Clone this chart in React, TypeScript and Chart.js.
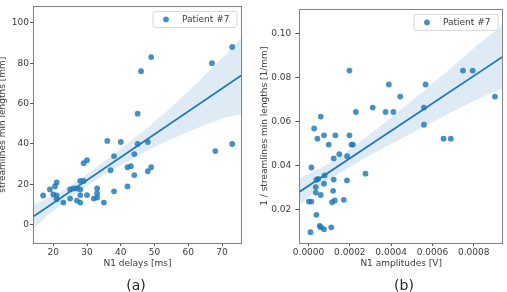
import React, { useEffect, useRef } from "react";
import { Chart, registerables } from "chart.js";

Chart.register(...registerables);

// ---------- Panel (a): N1 delays vs streamline min lengths ----------
const delaysMs = [
  17, 19, 20, 20.5, 21, 21, 21, 23, 25, 25, 26, 27, 28, 29, 27, 28, 28, 28,
  29, 30, 30, 32, 33, 33, 33, 35, 37, 38, 38, 42, 42, 43, 44, 44, 48, 49,
  36, 40, 45, 48, 45, 46, 49, 67, 73, 68, 73,
];
const minLengthsMm = [
  14.5, 17.5, 15, 19, 21, 14.5, 12.6, 11, 17.5, 13, 18, 18, 21.7, 21.7, 12, 11, 14.7, 17.5,
  30.5, 32, 14.7, 13, 18, 15.5, 13.5, 11, 27, 34, 16.6, 19, 28.5, 29, 35, 24.6, 26.5, 28.5,
  41.5, 41, 40, 41, 55, 76, 83, 80, 88, 36.5, 40,
];
const delaysFitX = [14, 76];
const delaysFitY = [4.0, 74.3];
const delaysBandX = [14, 20, 26, 32, 40, 50, 60, 70, 76];
const delaysBandUpper = [10, 14.5, 20.5, 27.5, 37.5, 51, 66, 82.5, 93];
const delaysBandLower = [-2, 7, 14.5, 21.5, 29.5, 38.5, 46, 52.5, 55];
const delaysXTicks = [20, 30, 40, 50, 60, 70];
const delaysYTicks = [0, 20, 40, 60, 80, 100];

// ---------- Panel (b): N1 amplitudes vs 1 / streamline min lengths ----------
const amplitudesV = [
  0.000027, 0.000043, 0.000059, 0.000075, 0.000098, 0.00013, 0.000198, 0.000198, 0.000208,
  0.000215, 0.000229, 0.000311, 0.000373, 0.000389, 0.000411, 0.000444, 0.000559, 0.000567,
  0.000559, 0.000654, 0.000689, 0.000748, 0.000795, 0.000903,
  0.000014, 0.000122, 0.000149, 0.000187, 0.000038, 0.000046, 0.000035, 0.000035, 0.000059,
  0.000078, 0.000075, 0.000122, 0.000119, 0.000114, 0.000127, 0.000171, 0.000186, 0.000276,
  0.0000016, 0.000014, 0.000038, 0.000054, 0.000059, 0.000075, 0.00011, 0.0000095,
];
const invLengths = [
  0.057, 0.0524, 0.0624, 0.0539, 0.0497, 0.0539, 0.0833, 0.0539, 0.0497,
  0.0497, 0.0645, 0.0665, 0.0645, 0.077, 0.0645, 0.0715, 0.0665, 0.077,
  0.0587, 0.0524, 0.0524, 0.0833, 0.0833, 0.0715,
  0.0393, 0.0434, 0.0453, 0.0444, 0.0337, 0.0341, 0.0304, 0.0279, 0.0268,
  0.0357, 0.0319, 0.0338, 0.0287, 0.0235, 0.0243, 0.0246, 0.0334, 0.0365,
  0.0238, 0.0238, 0.0178, 0.0128, 0.0122, 0.0113, 0.0121, 0.0099,
];
const ampFitX = [-0.000045, 0.00095];
const ampFitY = [0.0282, 0.0902];
const ampBandX = [-0.000045, 0.0001, 0.0002, 0.0003, 0.0004, 0.0005, 0.0006, 0.0007, 0.0008, 0.00095];
const ampBandUpper = [0.0344, 0.0411, 0.0475, 0.0546, 0.0620, 0.0695, 0.0774, 0.0853, 0.0935, 0.1047];
const ampBandLower = [0.0220, 0.0335, 0.0395, 0.0450, 0.0500, 0.0549, 0.0598, 0.0647, 0.0695, 0.0757];
const ampXTicks = [0, 0.0002, 0.0004, 0.0006, 0.0008];
const ampYTicks = [0.02, 0.04, 0.06, 0.08, 0.1];

const legendLabel = "Patient #7";

const FONT = "'DejaVu Sans', sans-serif";
const TEXT = "#3a3a3a";
const BLUE = "#1f77b4";
const POINT = "rgba(31,119,180,0.82)";
const BAND = "rgba(31,119,180,0.15)";

const pts = (xs: number[], ys: number[]) => xs.map((x, i) => ({ x, y: ys[i] }));

const framePlugin = {
  id: "frame",
  afterDatasetsDraw(chart: any) {
    const { ctx, chartArea: a } = chart;
    ctx.save();
    ctx.strokeStyle = "#808080";
    ctx.lineWidth = 1;
    ctx.strokeRect(Math.round(a.left) + 0.5, Math.round(a.top) + 0.5, Math.round(a.right - a.left) - 1, Math.round(a.bottom - a.top));
    ctx.restore();
  },
};

const legendPlugin = {
  id: "patientLegend",
  afterDraw(chart: any) {
    const { ctx, chartArea: a } = chart;
    const w = 84;
    const h = 16;
    const x0 = a.right - 5 - w;
    const y0 = a.top + 5;
    ctx.save();
    ctx.fillStyle = "rgba(255,255,255,0.85)";
    ctx.strokeStyle = "#d6d6d6";
    ctx.lineWidth = 1;
    ctx.beginPath();
    const r = 2;
    ctx.moveTo(x0 + r, y0);
    ctx.lineTo(x0 + w - r, y0);
    ctx.quadraticCurveTo(x0 + w, y0, x0 + w, y0 + r);
    ctx.lineTo(x0 + w, y0 + h - r);
    ctx.quadraticCurveTo(x0 + w, y0 + h, x0 + w - r, y0 + h);
    ctx.lineTo(x0 + r, y0 + h);
    ctx.quadraticCurveTo(x0, y0 + h, x0, y0 + h - r);
    ctx.lineTo(x0, y0 + r);
    ctx.quadraticCurveTo(x0, y0, x0 + r, y0);
    ctx.closePath();
    ctx.fill();
    ctx.stroke();
    ctx.fillStyle = POINT;
    ctx.beginPath();
    ctx.arc(x0 + 13, y0 + h / 2, 2.9, 0, Math.PI * 2);
    ctx.fill();
    ctx.fillStyle = TEXT;
    ctx.font = `9px ${FONT}`;
    ctx.textBaseline = "middle";
    ctx.fillText(legendLabel, x0 + 29, y0 + h / 2 + 0.5);
    ctx.restore();
  },
};

type PanelSpec = {
  xs: number[];
  ys: number[];
  fitX: number[];
  fitY: number[];
  bandX: number[];
  bandUp: number[];
  bandLo: number[];
  xMin: number;
  xMax: number;
  yMin: number;
  yMax: number;
  xTicks: number[];
  yTicks: number[];
  xFmt: (v: number) => string;
  yFmt: (v: number) => string;
  xTitle: string;
  yTitle: string;
  yAxisWidth: number;
  yTitlePad: number;
  yTickPad: number;
  yTickLen: number;
  padTop: number;
  padRight: number;
};

function buildConfig(p: PanelSpec): any {
  const font = { family: FONT, size: 9 };
  return {
    type: "scatter",
    data: {
      datasets: [
        {
          type: "line",
          data: pts(p.bandX, p.bandUp),
          borderWidth: 0,
          pointRadius: 0,
          backgroundColor: BAND,
          borderColor: "rgba(0,0,0,0)",
          fill: "+1",
          tension: 0.3,
          order: 3,
        },
        {
          type: "line",
          data: pts(p.bandX, p.bandLo),
          borderWidth: 0,
          pointRadius: 0,
          borderColor: "rgba(0,0,0,0)",
          fill: false,
          tension: 0.3,
          order: 3,
        },
        {
          type: "line",
          data: pts(p.fitX, p.fitY),
          borderColor: BLUE,
          borderWidth: 1.8,
          pointRadius: 0,
          fill: false,
          order: 2,
        },
        {
          type: "scatter",
          data: pts(p.xs, p.ys),
          backgroundColor: POINT,
          borderWidth: 0,
          pointRadius: 2.9,
          order: 1,
        },
      ],
    },
    options: {
      responsive: false,
      animation: false,
      devicePixelRatio: 1,
      layout: { padding: { left: 0, right: p.padRight, top: p.padTop, bottom: 0 } },
      plugins: { legend: { display: false }, tooltip: { enabled: false } },
      scales: {
        x: {
          type: "linear",
          min: p.xMin,
          max: p.xMax,
          afterBuildTicks: (s: any) => {
            s.ticks = p.xTicks.map((v) => ({ value: v }));
          },
          afterFit: (s: any) => {
            s.height = 49;
          },
          ticks: {
            callback: (v: any) => p.xFmt(Number(v)),
            font,
            color: TEXT,
            padding: 1.5,
            maxRotation: 0,
            autoSkip: false,
          },
          grid: { display: true, drawOnChartArea: false, drawTicks: true, tickLength: 3, tickColor: "#555" },
          border: { display: false },
          title: { display: true, text: p.xTitle, font, color: TEXT, padding: { top: 0, bottom: 22.6 } },
        },
        y: {
          type: "linear",
          min: p.yMin,
          max: p.yMax,
          afterBuildTicks: (s: any) => {
            s.ticks = p.yTicks.map((v) => ({ value: v }));
          },
          afterFit: (s: any) => {
            s.width = p.yAxisWidth;
          },
          ticks: {
            callback: (v: any) => p.yFmt(Number(v)),
            font,
            color: TEXT,
            padding: p.yTickPad,
            autoSkip: false,
          },
          grid: { display: true, drawOnChartArea: false, drawTicks: true, tickLength: p.yTickLen, tickColor: "#555" },
          border: { display: false },
          title: { display: true, text: p.yTitle, font, color: TEXT, padding: { top: p.yTitlePad, bottom: 0 } },
        },
      },
    },
    plugins: [framePlugin, legendPlugin],
  };
}

function Panel({ spec, left, width }: { spec: PanelSpec; left: number; width: number }) {
  const ref = useRef<HTMLCanvasElement | null>(null);
  useEffect(() => {
    if (!ref.current) return;
    const chart = new Chart(ref.current, buildConfig(spec));
    return () => chart.destroy();
  }, []);
  return (
    <canvas
      ref={ref}
      width={width}
      height={292}
      style={{ position: "absolute", left, top: 0, width, height: 292 }}
    />
  );
}

const specA: PanelSpec = {
  xs: delaysMs,
  ys: minLengthsMm,
  fitX: delaysFitX,
  fitY: delaysFitY,
  bandX: delaysBandX,
  bandUp: delaysBandUpper,
  bandLo: delaysBandLower,
  xMin: 14.0,
  xMax: 75.9,
  yMin: -9,
  yMax: 108.1,
  xTicks: delaysXTicks,
  yTicks: delaysYTicks,
  xFmt: (v) => String(Math.round(v)),
  yFmt: (v) => String(Math.round(v)),
  xTitle: "N1 delays [ms]",
  yTitle: "streamlines min lengths [mm]",
  yAxisWidth: 41,
  yTitlePad: 5.6,
  yTickPad: 1,
  yTickLen: 3,
  padTop: 5,
  padRight: 8,
};

const specB: PanelSpec = {
  xs: amplitudesV,
  ys: invLengths,
  fitX: ampFitX,
  fitY: ampFitY,
  bandX: ampBandX,
  bandUp: ampBandUpper,
  bandLo: ampBandLower,
  xMin: -0.0000448,
  xMax: 0.000942,
  yMin: 0.005,
  yMax: 0.1111,
  xTicks: ampXTicks,
  yTicks: ampYTicks,
  xFmt: (v) => v.toFixed(4),
  yFmt: (v) => v.toFixed(2),
  xTitle: "N1 amplitudes [V]",
  yTitle: "1 / streamlines min lengths [1/mm]",
  yAxisWidth: 49.3,
  yTitlePad: 9.6,
  yTickPad: 4,
  yTickLen: 4,
  padTop: 4.5,
  padRight: 0,
};

export default function App() {
  useEffect(() => {
    document.body.style.margin = "0";
  }, []);
  const capStyle: React.CSSProperties = {
    position: "absolute",
    top: 277,
    width: 40,
    textAlign: "center",
    fontFamily: FONT,
    fontSize: 14,
    lineHeight: "17px",
    color: "#262626",
  };
  return (
    <div style={{ position: "relative", width: 507, height: 292, overflow: "hidden", background: "#fff" }}>
      <Panel spec={specA} left={-8} width={258} />
      <Panel spec={specB} left={250} width={257} />
      <div style={{ ...capStyle, left: 136 - 20 }}>(a)</div>
      <div style={{ ...capStyle, left: 404 - 20 }}>(b)</div>
    </div>
  );
}
